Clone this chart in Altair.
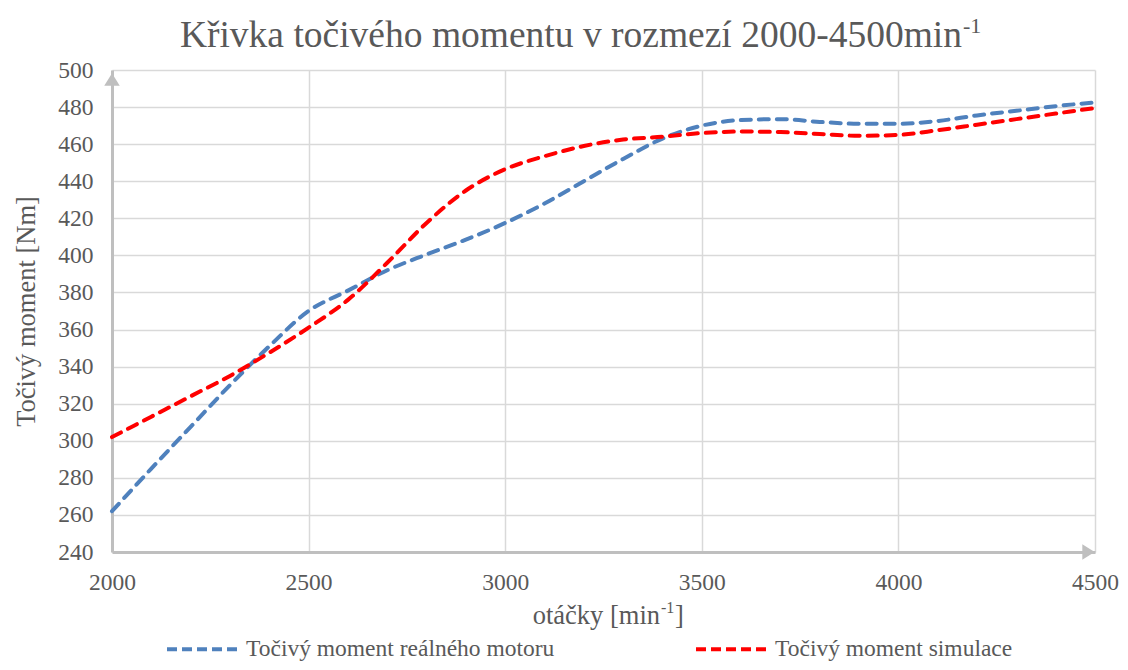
import altair as alt
import pandas as pd

# ---- data ----
rpm = [2000, 2100, 2200, 2300, 2400, 2500, 2600, 2700, 2800, 2900, 3000, 3100, 3200,
       3300, 3400, 3500, 3600, 3700, 3800, 3900, 4000, 4100, 4200, 4300, 4400, 4500]
real_motor = [262, 285, 307.5, 330, 351, 370, 381, 392, 400.5, 408.5, 417.5, 428, 440,
              452, 463, 470, 473, 473.5, 472, 471, 471, 472.5, 475.5, 478, 480.5, 482.5]
simulation = [302, 313, 324, 335, 347.5, 361, 376, 396, 417.5, 435, 446.5, 453.5, 459,
              462.5, 464, 466, 466.8, 466.5, 465.5, 464.5, 465, 467.5, 470.5, 473.5, 476.5, 479.5]
series_names = ["Točivý moment reálného motoru", "Točivý moment simulace"]
series_colors = ["#4f81bd", "#ff0000"]
y_ticks = [240, 260, 280, 300, 320, 340, 360, 380, 400, 420, 440, 460, 480, 500]
x_ticks = [2000, 2500, 3000, 3500, 4000, 4500]
title_main = "Křivka točivého momentu v rozmezí 2000-4500min"
title_sup = "-1"
y_title = "Točivý moment [Nm]"
x_title_main = "otáčky [min"
x_title_sup = "-1"
x_title_end = "]"

W, H = 983, 482
FONT = "Liberation Serif"
GREY = "#595959"
AXIS_GREY = "#bfbfbf"

df = pd.DataFrame({
    "rpm": rpm + rpm,
    "moment": real_motor + simulation,
    "series": [series_names[0]] * len(rpm) + [series_names[1]] * len(rpm),
})
one = pd.DataFrame({"k": [0]})

lines = alt.Chart(df).mark_line(
    strokeWidth=4, strokeDash=[10, 8], strokeCap="round", interpolate="monotone"
).encode(
    x=alt.X("rpm:Q",
            scale=alt.Scale(domain=[2000, 4500], nice=False, zero=False),
            axis=alt.Axis(values=x_ticks, title=None, labelPadding=18, labelFlush=False,
                          labelOverlap=False, format="d")),
    y=alt.Y("moment:Q",
            scale=alt.Scale(domain=[240, 500], nice=False, zero=False),
            axis=alt.Axis(values=y_ticks, title=y_title, labelPadding=19, format="d",
                          titleX=-86, titleY=H / 2, titleAngle=270, titleBaseline="middle",
                          titleAlign="center", labelOverlap=False)),
    color=alt.Color("series:N",
                    scale=alt.Scale(domain=series_names, range=series_colors),
                    legend=alt.Legend(
                        title=None, orient="none", legendX=53, legendY=541,
                        direction="horizontal", columns=2, symbolType="stroke",
                        symbolSize=5184, symbolStrokeWidth=4, symbolDash=[10, 5],
                        labelFont=FONT, labelFontSize=23.5, labelColor=GREY,
                        labelOffset=5, columnPadding=133, padding=0, labelLimit=500)),
)

arrow_up = alt.Chart(one).mark_point(
    shape="M0,-0.8L1,0.8L-1,0.8Z", filled=True, size=240, color=AXIS_GREY, opacity=1
).encode(x=alt.value(0), y=alt.value(9.5))

arrow_right = alt.Chart(one).mark_point(
    shape="M0.8,0L-0.8,-1L-0.8,1Z", filled=True, size=240, color=AXIS_GREY, opacity=1
).encode(x=alt.value(W - 6.5), y=alt.value(H))

t_main = alt.Chart(one).mark_text(
    text=title_main, font=FONT, fontSize=37.5, color=GREY, align="right", baseline="alphabetic"
).encode(x=alt.value(850), y=alt.value(-23))
t_sup = alt.Chart(one).mark_text(
    text=title_sup, font=FONT, fontSize=22, color=GREY, align="left", baseline="alphabetic"
).encode(x=alt.value(851), y=alt.value(-37))

xt_main = alt.Chart(one).mark_text(
    text=x_title_main, font=FONT, fontSize=26.5, color=GREY, align="right", baseline="alphabetic"
).encode(x=alt.value(548), y=alt.value(554))
xt_sup = alt.Chart(one).mark_text(
    text=x_title_sup, font=FONT, fontSize=16, color=GREY, align="left", baseline="alphabetic"
).encode(x=alt.value(549), y=alt.value(543))
xt_end = alt.Chart(one).mark_text(
    text=x_title_end, font=FONT, fontSize=26.5, color=GREY, align="left", baseline="alphabetic"
).encode(x=alt.value(563), y=alt.value(554))

chart = alt.layer(
    lines, arrow_up, arrow_right, t_main, t_sup, xt_main, xt_sup, xt_end
).properties(
    width=W, height=H,
    autosize=alt.AutoSizeParams(type="none"),
    padding={"left": 104, "top": 62, "right": 25, "bottom": 110},
    background="white",
).configure_view(
    stroke=None
).configure_axis(
    labelFont=FONT, labelFontSize=23.5, labelColor=GREY,
    titleFont=FONT, titleFontSize=26.5, titleColor=GREY, titleFontWeight="normal",
    domainColor=AXIS_GREY, domainWidth=3, gridColor="#d9d9d9", gridWidth=1.5,
    ticks=False, tickSize=0,
)

chart.save("out.html", embed_options={"renderer": "svg", "actions": False})
